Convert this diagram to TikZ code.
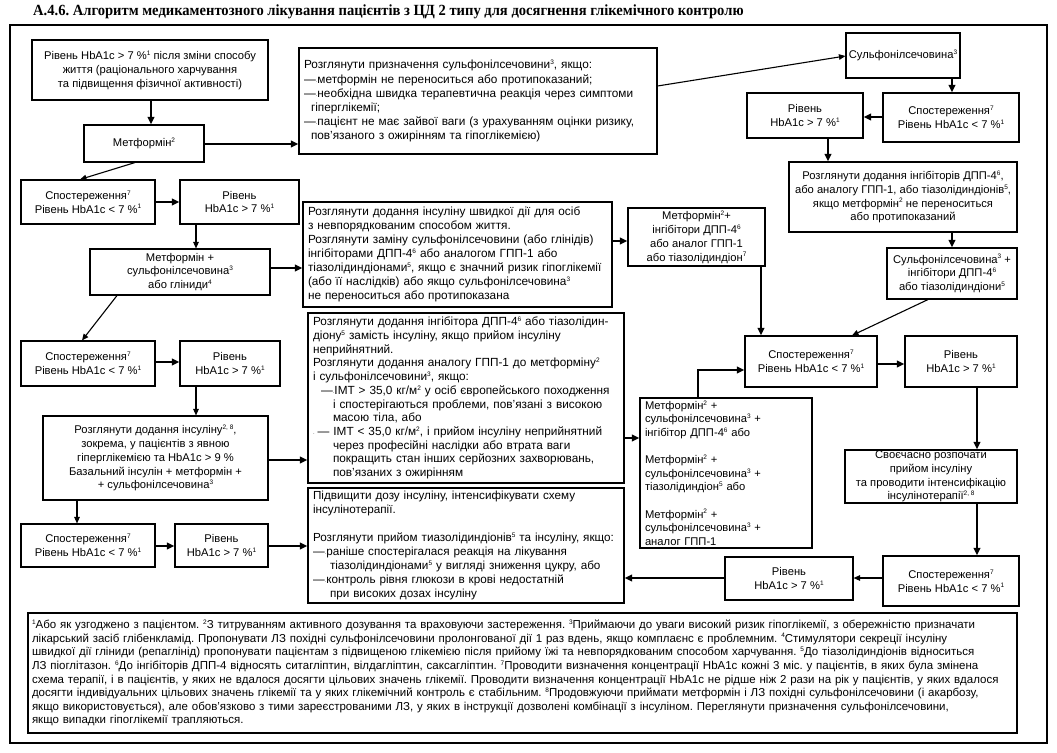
\documentclass[tikz,border=0pt]{standalone}
\usepackage{fontspec}
\usepackage{graphicx}
\setmainfont{Liberation Sans}
\newfontfamily\titlefont{Liberation Serif}
\usetikzlibrary{arrows.meta,calc}
\frenchspacing
\newcommand{\su}[1]{\raisebox{4.3pt}{\fontsize{6.5}{6.5}\selectfont #1}}
\newcommand{\dd}{—{\fontsize{5}{5}\selectfont·}}
\newcommand\bx[7][]{%
 \pgfmathsetmacro\bxw{#5-#3}\pgfmathsetmacro\bxh{#6-#4}%
 \pgfmathsetmacro\bxt{#5-#3-10}%
 \pgfmathsetmacro\bxcx{(#3+#5)/2}\pgfmathsetmacro\bxcy{(#4+#6)/2}%
 \node[box,minimum width=\bxw pt,minimum height=\bxh pt,#1] (#2) at (\bxcx,\bxcy) {#7};}
\tikzset{
  box/.style={draw, line width=1.1pt, inner sep=0pt, align=center, font=\fontsize{11.2}{13.8}\selectfont},
  lbox/.style={align=left, inner xsep=5pt, text width=\bxt pt},
  big/.style={font=\fontsize{11.8}{14.1}\selectfont},
  arr/.style={-{Triangle[length=7.5pt,width=6.5pt]}, line width=2pt},
  tarr/.style={-{Triangle[length=6.5pt,width=5.5pt]}, line width=1.1pt},
}
\begin{document}
\begin{tikzpicture}[x=1pt,y=-1pt]
\useasboundingbox (0,0) rectangle (1057,752);
\fill[white] (0,0) rectangle (1057,752);
\node[anchor=west, inner sep=0pt, font=\titlefont\bfseries\fontsize{15.5}{17}\selectfont] (title) at (33,12)
  {\scalebox{0.94}[1]{А.4.6. Алгоритм медикаментозного лікування пацієнтів з ЦД 2 типу для досягнення глікемічного контролю}};
\bx[line width=1.2pt]{frame}{10}{25}{1047}{743}{}
% boxes
\bx{A}{32}{40}{268}{100}{Рівень HbA1c > 7 \%\su{1} після зміни способу\\життя (раціонального харчування\\та підвищення фізичної активності)}
\bx{B}{84}{125}{204}{162}{Метформін\su{2}}
\bx[lbox,big]{C}{299}{48}{657}{154}{Розглянути призначення сульфонілсечовини\su{3}, якщо:\\
\dd метформін не переноситься або протипоказаний;\\
\dd необхідна швидка терапевтична реакція через симптоми\\
\hspace*{7pt}гіперглікемії;\\
\dd пацієнт не має зайвої ваги (з урахуванням оцінки ризику,\\
\hspace*{7pt}пов'язаного з ожирінням та гіпоглікемією)}
\bx{D}{846}{33}{960}{78}{Сульфонілсечовина\su{3}}
\bx{E}{883}{93}{1019}{142}{Спостереження\su{7}\\Рівень HbA1c < 7 \%\su{1}}
\bx{F}{747}{93}{863}{138}{Рівень\\HbA1c > 7 \%\su{1}}
\bx{G}{789}{162}{1017}{232}{Розглянути додання інгібіторів ДПП-4\su{6},\\або аналогу ГПП-1, або тіазолідиндіонів\su{5},\\якщо метформін\su{2} не переноситься\\або протипоказаний}
\bx{H}{887}{248}{1017}{299}{Сульфонілсечовина\su{3} +\\інгібітори ДПП-4\su{6}\\або тіазолідиндіони\su{5}}
\bx{L}{21}{180}{155}{224}{Спостереження\su{7}\\Рівень HbA1c < 7 \%\su{1}}
\bx{M}{180}{180}{299}{224}{Рівень\\HbA1c > 7 \%\su{1}}
\bx{K}{90}{249}{270}{295}{Метформін +\\сульфонілсечовина\su{3}\\або гліниди\su{4}}
\bx[lbox,big]{J}{303}{202}{612}{307}{Розглянути додання інсуліну швидкої дії для осіб\\
з невпорядкованим способом життя.\\
Розглянути заміну сульфонілсечовини (або глінідів)\\
інгібіторами ДПП-4\su{6} або аналогом ГПП-1 або\\
тіазолідиндіонами\su{5}, якщо є значний ризик гіпоглікемії\\
(або її наслідків) або якщо сульфонілсечовина\su{3}\\
не переноситься або протипоказана}
\bx{I}{628}{208}{765}{266}{Метформін\su{2}+\\інгібітори ДПП-4\su{6}\\або аналог ГПП-1\\або тіазолідиндіон\su{7}}
\bx{N}{21}{341}{155}{386}{Спостереження\su{7}\\Рівень HbA1c < 7 \%\su{1}}
\bx{O}{180}{341}{280}{386}{Рівень\\HbA1c > 7 \%\su{1}}
\bx{P}{43}{416}{268}{500}{Розглянути додання інсуліну\su{2, 8},\\зокрема, у пацієнтів з явною\\гіперглікемією та HbA1c > 9 \%\\Базальний інсулін + метформін +\\+ сульфонілсечовина\su{3}}
\bx[lbox,font=\fontsize{11.8}{13.7}\selectfont]{Q}{308}{313}{624}{483}{Розглянути додання інгібітора ДПП-4\su{6} або тіазолідин-\\
діону\su{5} замість інсуліну, якщо прийом інсуліну\\
неприйнятний.\\
Розглянути додання аналогу ГПП-1 до метформіну\su{2}\\
і сульфонілсечовини\su{3}, якщо:\\
\hspace*{8pt}\dd ІМТ > 35,0 кг/м\su{2} у осіб європейського походження\\
\hspace*{20pt}і спостерігаються проблеми, пов'язані з високою\\
\hspace*{20pt}масою тіла, або\\
{\fontsize{5}{5}\selectfont·}\hspace*{3pt}— ІМТ < 35,0 кг/м\su{2}, і прийом інсуліну неприйнятний\\
\hspace*{20pt}через професійні наслідки або втрата ваги\\
\hspace*{20pt}покращить стан інших серйозних захворювань,\\
\hspace*{20pt}пов'язаних з ожирінням}
\bx[lbox,font=\fontsize{11.2}{13.6}\selectfont]{R}{640}{398}{812}{548}{Метформін\su{2} +\\сульфонілсечовина\su{3} +\\інгібітор ДПП-4\su{6} або\\[13.6pt]
Метформін\su{2} +\\сульфонілсечовина\su{3} +\\тіазолідиндіон\su{5} або\\[13.6pt]
Метформін\su{2} +\\сульфонілсечовина\su{3} +\\аналог ГПП-1}
\bx{S}{745}{336}{877}{387}{Спостереження\su{7}\\Рівень HbA1c < 7 \%\su{1}}
\bx{T}{905}{336}{1017}{387}{Рівень\\HbA1c > 7 \%\su{1}}
\bx{U}{845}{450}{1017}{503}{Своєчасно розпочати\\прийом інсуліну\\та проводити інтенсифікацію\\інсулінотерапії\su{2, 8}}
\bx{V}{883}{556}{1019}{606}{Спостереження\su{7}\\Рівень HbA1c < 7 \%\su{1}}
\bx{W}{725}{557}{853}{600}{Рівень\\HbA1c > 7 \%\su{1}}
\bx[lbox,font=\fontsize{11.7}{14}\selectfont]{X}{308}{488}{624}{603}{Підвищити дозу інсуліну, інтенсифікувати схему\\
інсулінотерапії.\\[14pt]
Розглянути прийом тиазолідиндіонів\su{5} та інсуліну, якщо:\\
\dd раніше спостерігалася реакція на лікування\\
\hspace*{17pt}тіазолідиндіонами\su{5} у вигляді зниження цукру, або\\
\dd контроль рівня глюкози в крові недостатній\\
\hspace*{17pt}при високих дозах інсуліну}
\bx{Y}{21}{524}{155}{567}{Спостереження\su{7}\\Рівень HbA1c < 7 \%\su{1}}
\bx{Z}{175}{524}{268}{567}{Рівень\\HbA1c > 7 \%\su{1}}
\bx[lbox,inner xsep=4pt,font=\fontsize{11.5}{13.6}\selectfont,text width=981pt]{FN}{28}{613}{1017}{733}{\su{1}Або як узгоджено з пацієнтом. \su{2}З титруванням активного дозування та враховуючи застереження. \su{3}Приймаючи до уваги високий ризик гіпоглікемії, з обережністю призначати\\
лікарський засіб глібенкламід. Пропонувати ЛЗ похідні сульфонілсечовини пролонгованої дії 1 раз вдень, якщо комплаєнс є проблемним. \su{4}Стимулятори секреції інсуліну\\
швидкої дії гліниди (репаглінід) пропонувати пацієнтам з підвищеною глікемією після прийому їжі та невпорядкованим способом харчування. \su{5}До тіазолідиндіонів відноситься\\
ЛЗ піоглітазон. \su{6}До інгібіторів ДПП-4 відносять ситагліптин, вілдагліптин, саксагліптин. \su{7}Проводити визначення концентрації HbA1c кожні 3 міс. у пацієнтів, в яких була змінена\\
схема терапії, і в пацієнтів, у яких не вдалося досягти цільових значень глікемії. Проводити визначення концентрації HbA1c не рідше ніж 2 рази на рік у пацієнтів, у яких вдалося\\
досягти індивідуальних цільових значень глікемії та у яких глікемічний контроль є стабільним. \su{8}Продовжуючи приймати метформін і ЛЗ похідні сульфонілсечовини (і акарбозу,\\
якщо використовується), але обов'язково з тими зареєстрованими ЛЗ, у яких в інструкції дозволені комбінації з інсуліном. Переглянути призначення сульфонілсечовини,\\
якщо випадки гіпоглікемії трапляються.}
% connectors
\draw[arr] (151,0 |- A.south) -- (151,0 |- B.north);
\draw[arr] (B.east |- 0,144) -- (C.west |- 0,144);
\draw[tarr] (C.east |- 0,86) -- (D.west |- 0,56);
\draw[tarr] (135,0 |- B.south) -- (80,0 |- L.north);
\draw[arr] (952,0 |- D.south) -- (952,0 |- E.north);
\draw[arr] (E.west |- 0,117) -- (F.east |- 0,117);
\draw[arr] (828,0 |- F.south) -- (828,0 |- G.north);
\draw[arr] (952,0 |- G.south) -- (952,0 |- H.north);
\draw[arr] (L.east |- 0,202) -- (M.west |- 0,202);
\draw[tarr] (196,0 |- M.south) -- (196,0 |- K.north);
\draw[arr] (K.east |- 0,268) -- (J.west |- 0,268);
\draw[arr] (J.east |- 0,241) -- (I.west |- 0,241);
\draw[arr] (761,0 |- I.south) -- (761,0 |- S.north);
\draw[tarr] (928,0 |- H.south) -- (852,0 |- S.north);
\draw[tarr] (117,0 |- K.south) -- (82,0 |- N.north);
\draw[arr] (N.east |- 0,362) -- (O.west |- 0,362);
\draw[tarr] (196,0 |- O.south) -- (196,0 |- P.north);
\draw[arr] (P.east |- 0,460) -- (Q.west |- 0,460);
\draw[arr] (Q.east |- 0,438) -- (R.west |- 0,438);
\draw[arr] (698,0 |- R.north) |- (S.west |- 0,370);
\draw[arr] (S.east |- 0,364) -- (T.west |- 0,364);
\draw[arr] (977,0 |- T.south) -- (977,0 |- U.north);
\draw[arr] (977,0 |- U.south) -- (977,0 |- V.north);
\draw[tarr] (V.west |- 0,578) -- (W.east |- 0,578);
\draw[arr] (W.west |- 0,578) -- (X.east |- 0,578);
\draw[tarr] (77,0 |- P.south) -- (77,0 |- Y.north);
\draw[arr] (Y.east |- 0,546) -- (Z.west |- 0,546);
\draw[arr] (Z.east |- 0,546) -- (X.west |- 0,546);
\end{tikzpicture}
\end{document}
